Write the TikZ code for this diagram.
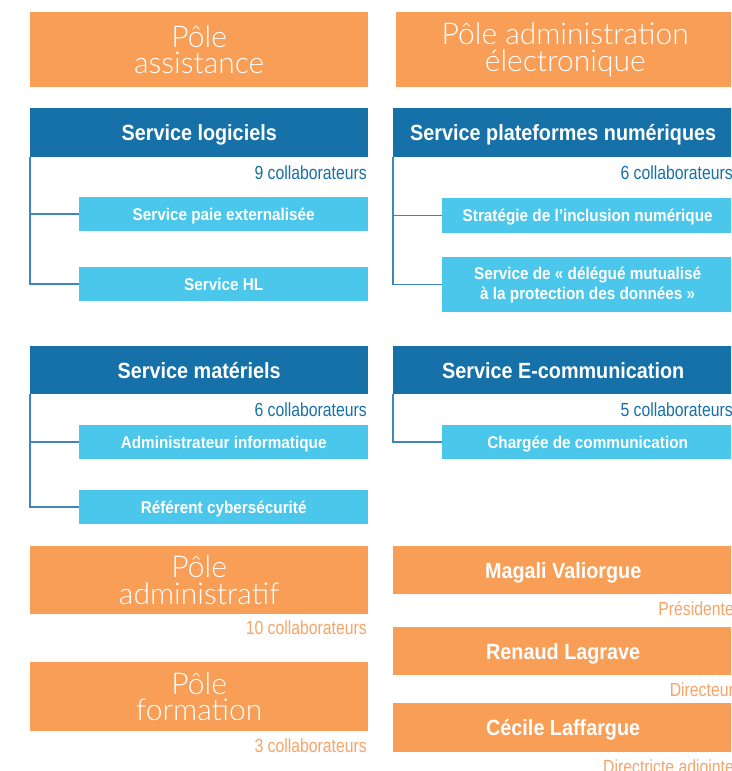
\documentclass[tikz,border=0pt]{standalone}
\usepackage{fontspec}
\setmainfont{Liberation Sans}
\newfontfamily\condbold{Liberation Sans Bold}[FakeStretch=0.9]
\newfontfamily\condreg{Liberation Sans}[FakeStretch=0.83]
\newfontfamily\lightfont{Lato Light}
\definecolor{orng}{HTML}{F89E57}
\definecolor{dblue}{HTML}{1571A7}
\definecolor{lblue}{HTML}{4AC7EA}
\definecolor{lnblue}{HTML}{3F86BF}
\definecolor{orngtxt}{HTML}{F7A468}
\tikzset{
  pole/.style={fill=orng, text=white, anchor=north west, inner sep=0pt, minimum width=338pt, align=center, font=\lightfont\fontsize{30}{26.5}\selectfont},
  svc/.style={fill=dblue, text=white, anchor=north west, inner sep=0pt, text height=16pt, text depth=0pt, font=\condbold\fontsize{22}{26}\selectfont},
  subbox/.style={fill=lblue, text=white, anchor=north west, inner sep=0pt, align=center, font=\condbold\fontsize{17}{20}\selectfont},
  onesub/.style={subbox, text height=12.5pt, text depth=0pt},
  person/.style={fill=orng, text=white, anchor=north west, inner sep=0pt, minimum width=340pt, minimum height=48pt, text height=16pt, text depth=0pt, font=\condbold\fontsize{22}{26}\selectfont},
  count/.style={anchor=base east, inner sep=0pt, text=dblue, font=\condreg\fontsize{19}{22}\selectfont},
  ocount/.style={count, text=orngtxt},
  conn/.style={draw=lnblue, line width=1.5pt}
}
\begin{document}
\begin{tikzpicture}[x=1pt, y=-1pt]
\useasboundingbox (0,0) rectangle (731,771);
\clip (0,0) rectangle (731,771);
\fill[white] (0,0) rectangle (731,771);
% top poles
\node[pole, minimum height=75pt] (pa) at (30,12) {Pôle\\assistance};
\node[pole, minimum height=75pt] (pe) at (396,12) {Pôle administration\\électronique};
% service logiciels
\node[svc, minimum width=338pt, minimum height=49pt] (sl) at (30,108) {Service logiciels};
\node[count] (slc) at (367,179) {9 collaborateurs};
\node[onesub, minimum width=289pt, minimum height=34pt] (spe) at (79,197) {Service paie externalisée};
\node[onesub, minimum width=289pt, minimum height=34pt] (shl) at (79,267) {Service HL};
\draw[conn] (sl.south west) |- (shl.west);
\draw[conn] (sl.south west |- spe.west) -- (spe.west);
% service plateformes
\node[svc, minimum width=340pt, minimum height=49pt] (spn) at (393,108) {Service plateformes numériques};
\node[count] (spnc) at (733,179) {6 collaborateurs};
\node[onesub, minimum width=291pt, minimum height=35pt] (sin) at (442,198) {Stratégie de l’inclusion numérique};
\node[subbox, minimum width=291pt, minimum height=55pt] (dpo) at (442,257) {Service de «~délégué mutualisé\\à la protection des données~»};
\draw[conn] (spn.south west) |- (dpo.west);
\draw[conn] (spn.south west |- sin.west) -- (sin.west);
% service matériels
\node[svc, minimum width=338pt, minimum height=48pt] (sm) at (30,346) {Service matériels};
\node[count] (smc) at (367,416) {6 collaborateurs};
\node[onesub, minimum width=289pt, minimum height=34pt] (adm) at (79,425) {Administrateur informatique};
\node[onesub, minimum width=289pt, minimum height=34pt] (cyb) at (79,490) {Référent cybersécurité};
\draw[conn] (sm.south west) |- (cyb.west);
\draw[conn] (sm.south west |- adm.west) -- (adm.west);
% service e-communication
\node[svc, minimum width=340pt, minimum height=48pt] (sec) at (393,346) {Service E-communication};
\node[count] (secc) at (733,416) {5 collaborateurs};
\node[onesub, minimum width=291pt, minimum height=34pt] (chg) at (442,425) {Chargée de communication};
\draw[conn] (sec.south west) |- (chg.west);
% bottom left poles
\node[pole, minimum height=68pt] (padm) at (30,546) {Pôle\\administratif};
\node[ocount] (padmc) at (367,634) {10 collaborateurs};
\node[pole, minimum height=69pt] (pfor) at (30,662) {Pôle\\formation};
\node[ocount] (pforc) at (367,752) {3 collaborateurs};
% people
\node[person] (mv) at (393,546) {Magali Valiorgue};
\node[ocount] (mvr) at (734,615) {Présidente};
\node[person] (rl) at (393,627) {Renaud Lagrave};
\node[ocount] (rlr) at (734,696) {Directeur};
\node[person, minimum height=49pt] (cl) at (393,703) {Cécile Laffargue};
\node[ocount] (clr) at (734,773) {Directricte adjointe};
\end{tikzpicture}
\end{document}
